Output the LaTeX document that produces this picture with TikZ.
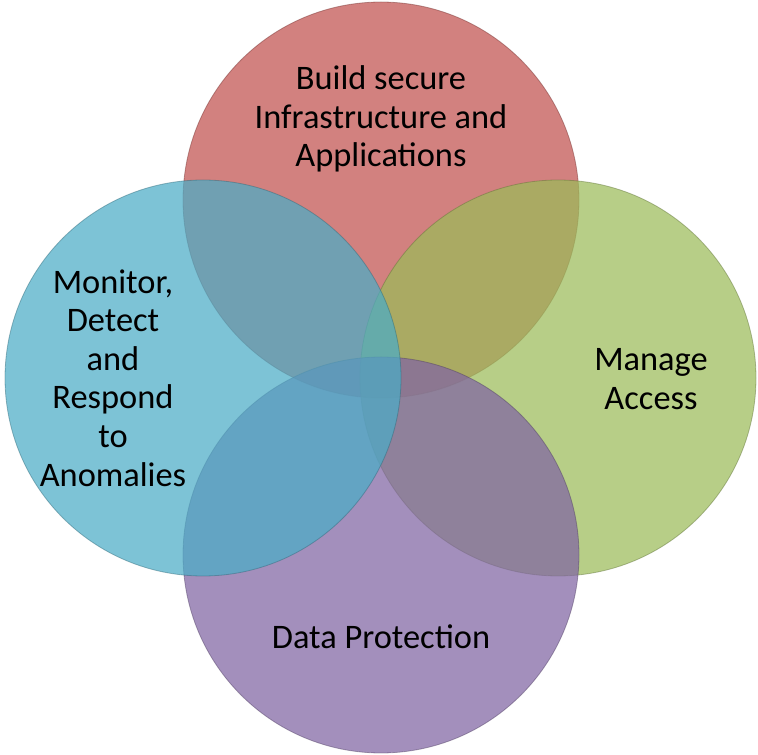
\documentclass[tikz,border=0pt]{standalone}
\usepackage{fontspec}
\setmainfont{Carlito}
\usetikzlibrary{positioning}

\definecolor{secred}{HTML}{C0504D}
\definecolor{secblue}{HTML}{4BACC6}
\definecolor{secgreen}{HTML}{9BBB59}
\definecolor{secpurple}{HTML}{8064A2}

\begin{document}
\begin{tikzpicture}[x=0.75pt,y=-0.75pt,node distance=178,on grid]
  \tikzstyle{area}=[circle,inner sep=0pt,minimum size=297pt,
                    fill opacity=0.72,draw opacity=0.45,line width=0.6pt]
  \tikzstyle{caption}=[align=center,text=black,inner sep=0pt,
                       font=\fontsize{25.8}{28.9}\selectfont]

  \useasboundingbox (0,0) rectangle (758,755);

  % circles, drawn clockwise from the top
  \node[area,fill=secred,draw=secred!60!black] (build) at (381,200) {};
  \node[area,fill=secgreen,draw=secgreen!60!black] (manage) at (558,378) {};
  \node[area,fill=secpurple,draw=secpurple!60!black] (data) at (381,555) {};
  \node[area,fill=secblue,draw=secblue!60!black] (monitor) at (203,378) {};

  % labels
  \node[caption] (buildtxt) at (381,119) {Build secure\\Infrastructure and\\Applications};
  \node[caption] (managetxt) at (651,379) {Manage\\Access};
  \node[caption] (datatxt) at (381,637) {Data Protection};
  \node[caption] (monitortxt) at (113,378) {Monitor,\\Detect\\and\\Respond\\to\\Anomalies};
\end{tikzpicture}
\end{document}
